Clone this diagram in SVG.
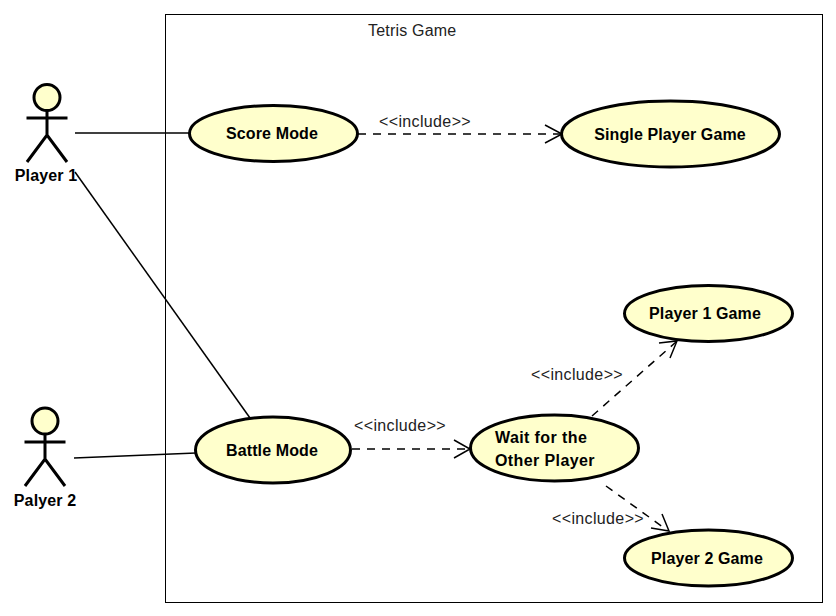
<svg xmlns="http://www.w3.org/2000/svg" width="836" height="616" viewBox="0 0 836 616">
<style>
text{font-family:"Liberation Sans",Arial,sans-serif;fill:#000}
.n{font-size:16px;font-weight:bold;letter-spacing:.12px}
.w{letter-spacing:.4px}
.l{font-size:16px;fill:#222;letter-spacing:.36px}
.m{text-anchor:middle}
.u{fill:#ffffcc;stroke:#000;stroke-width:3}
.a{fill:none;stroke:#000;stroke-width:3}
.c{fill:none;stroke:#000;stroke-width:1.5}
.d{fill:none;stroke:#000;stroke-width:1.5;stroke-dasharray:8 7}
.h{fill:none;stroke:#000;stroke-width:1.5}
</style>
<rect width="836" height="616" fill="#fff"/>
<g id="system"><rect x="165.500" y="14.500" width="657" height="588" fill="none" stroke="#000" stroke-width="1"/><text x="368" y="36" font-size="16" style="fill:#222;letter-spacing:.2px">Tetris Game</text></g>
<g id="connectors">
<line class="c" x1="75" y1="133" x2="190" y2="133"/>
<line class="c" x1="75" y1="172" x2="250" y2="418"/>
<line class="c" x1="74" y1="458" x2="196" y2="453"/>
<path class="d" d="M358 134H560"/><path class="h" d="M545 125L562 134L545 143"/>
<path class="d" d="M352 449H468"/><path class="h" d="M454 440L470 449L454 458"/>
<path class="d" d="M592 416L676 342"/><path class="h" d="M659 343L677 341L670 358"/>
<path class="d" d="M606 486L667 530"/><path class="h" d="M662 514L669 531L651 528"/>
</g>
<g id="label-include-1"><text class="l" x="379" y="127">&lt;&lt;include&gt;&gt;</text></g>
<g id="label-include-2"><text class="l" x="354" y="431">&lt;&lt;include&gt;&gt;</text></g>
<g id="label-include-3"><text class="l" x="531" y="380">&lt;&lt;include&gt;&gt;</text></g>
<g id="label-include-4"><text class="l" x="552" y="524">&lt;&lt;include&gt;&gt;</text></g>
<g id="actor-player1">
<circle class="u" cx="47" cy="97.500" r="13"/>
<path class="a" d="M47 111V135M26.500 118H67.500M27 162L47 135L67 162"/>
<text class="n m" x="46" y="181">Player 1</text>
</g>
<g id="actor-player2">
<circle class="u" cx="45" cy="421" r="13"/>
<path class="a" d="M45 434V459M24.500 442H65.500M25 486L45 459L65 486"/>
<text class="n m" x="45" y="506">Palyer 2</text>
</g>
<g id="uc-score"><ellipse class="u" cx="273.500" cy="133.500" rx="84" ry="28"/><text class="n m" x="272" y="139">Score Mode</text></g>
<g id="uc-single"><ellipse class="u" cx="670.500" cy="134" rx="109" ry="33"/><text class="n m" x="670" y="140">Single Player Game</text></g>
<g id="uc-p1"><ellipse class="u" cx="708.500" cy="313.500" rx="84" ry="28"/><text class="n m" x="705" y="319">Player 1 Game</text></g>
<g id="uc-battle"><ellipse class="u" cx="273" cy="450" rx="77.500" ry="33"/><text class="n m" x="272" y="456">Battle Mode</text></g>
<g id="uc-wait"><ellipse class="u" cx="554.500" cy="448" rx="84" ry="33"/><text class="n w" x="495" y="443">Wait for the</text><text class="n w" x="495" y="466">Other Player</text></g>
<g id="uc-p2"><ellipse class="u" cx="708.500" cy="558" rx="84" ry="28"/><text class="n m" x="707" y="564">Player 2 Game</text></g>
</svg>
